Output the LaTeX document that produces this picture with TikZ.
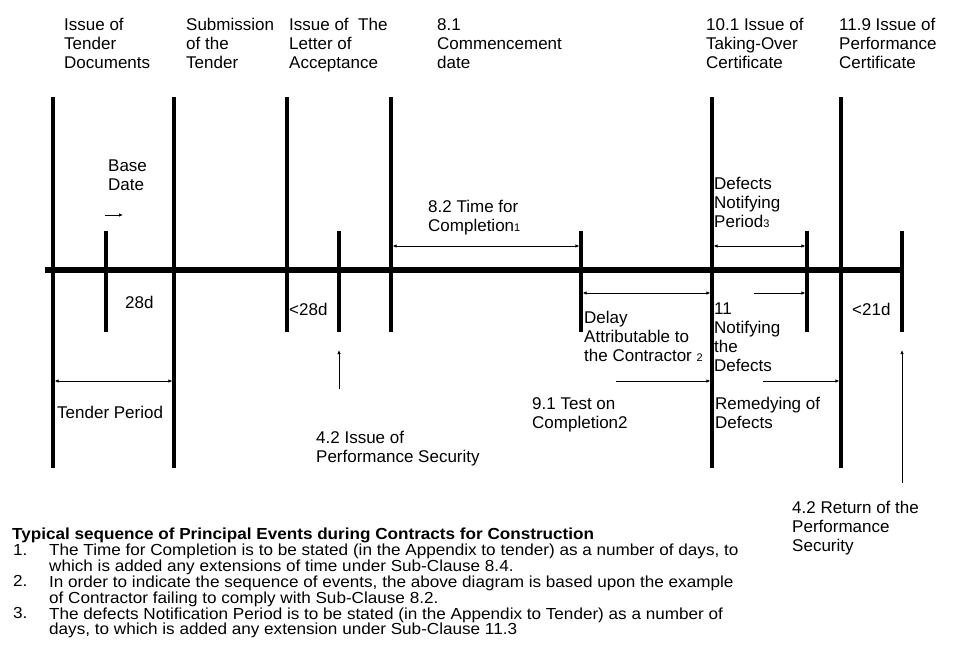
\documentclass[tikz,border=0pt]{standalone}
\usepackage{fontspec}
\setmainfont{Liberation Sans}
\newfontfamily\notefont[FakeStretch=1.07]{Liberation Sans}
\usetikzlibrary{arrows.meta}

% small index digits after some labels
\newcommand{\idx}[1]{{\fontsize{11}{11}\selectfont #1}}

\begin{document}
\begin{tikzpicture}[x=1pt, y=-1pt,
    % line styles
    axis/.style={line width=5.3pt},
    event/.style={line width=3.4pt},
    dim/.style={line width=0.8pt, {Latex[length=4pt,width=3.5pt]}-{Latex[length=4pt,width=3.5pt]}, shorten <=1.6pt, shorten >=1.6pt},
    pointer/.style={line width=0.8pt, -{Latex[length=4pt,width=3.5pt]}, shorten >=1.6pt},
    % text styles
    lbl/.style={anchor=north west, inner sep=0pt, align=left, font=\fontsize{17}{19}\selectfont},
    note/.style={anchor=north west, inner sep=0pt, align=left, font=\notefont\fontsize{16}{15.8}\selectfont}
]

\useasboundingbox (0,0) rectangle (960,656);

% Event lines - name/x/top/bottom
\foreach \name/\xx/\ytop/\ybot in {itd/53/97/468, base/106/231/332, sub/174/97/468,
    loa/287/97/332, sec/339/231/332, com/391/97/332, tfc/581/231/332,
    toc/712/97/468, dnp/807/231/332, pc/841/97/468, ret/902/231/332} {
  \coordinate (\name-t) at (\xx,\ytop);
  \coordinate (\name-b) at (\xx,\ybot);
  \draw[event] (\name-t) -- (\name-b);
}

% Time axis
\coordinate (start) at (45,270);
\draw[axis] (start) -- (start -| ret-t);

% Event labels on top
\node[lbl] (l-itd) at (64,18) {Issue of\\Tender\\Documents};
\node[lbl] (l-sub) at (186,18) {Submission\\of the\\Tender};
\node[lbl] (l-loa) at (289,18) {Issue of~ The\\Letter of\\Acceptance};
\node[lbl] (l-com) at (437,18) {8.1\\Commencement\\date};
\node[lbl] (l-toc) at (706,18) {10.1 Issue of\\Taking-Over\\Certificate};
\node[lbl] (l-pc) at (839,18) {11.9 Issue of\\Performance\\Certificate};

% Above the axis
\node[lbl] (l-base) at (108,160) {Base\\Date};
\coordinate (basefrom) at (105,215);
\draw[pointer, shorten >=0pt] (basefrom) -- ++(18,0);
\node[lbl] (l-tfc) at (428,200) {8.2 Time for\\Completion\idx{1}};
\draw[dim] (com-t |- 0,246) -- (tfc-t |- 0,246);
\node[lbl] (l-dnp) at (714,177) {Defects\\Notifying\\Period\idx{3}};
\draw[dim] (toc-t |- 0,246) -- (dnp-t |- 0,246);

% Below the axis
\node[lbl] (l-28) at (125,296) {28d};
\node[lbl] (l-lt28) at (289,303) {<28d};
\node[lbl] (l-lt21) at (852,303) {<21d};
\draw[dim] (tfc-t |- 0,293) -- (toc-t |- 0,293);
\node[lbl] (l-delay) at (584,311) {Delay\\Attributable to\\the Contractor \idx{2}};
\node[lbl] (l-ntf) at (714,303) {11\\Notifying\\the\\Defects};
\coordinate (ntffrom) at (754,293);
\draw[pointer] (ntffrom) -- (dnp-t |- ntffrom);

\draw[dim] (itd-t |- 0,381) -- (sub-t |- 0,381);
\node[lbl] (l-tp) at (57,406) {Tender Period};
\coordinate (testfrom) at (616,381);
\draw[pointer] (testfrom) -- (toc-t |- testfrom);
\node[lbl] (l-test) at (532,397) {9.1 Test on\\Completion2};
\coordinate (remfrom) at (763,381);
\draw[pointer] (remfrom) -- (pc-t |- remfrom);
\node[lbl] (l-rem) at (715,397) {Remedying of\\Defects};

% Performance security
\coordinate (secfrom) at (339,389);
\draw[pointer, shorten >=0pt] (secfrom) -- (sec-b |- 0,350);
\node[lbl] (l-sec) at (316,431) {4.2 Issue of\\Performance Security};
\coordinate (retfrom) at (902,483);
\draw[pointer, shorten >=0pt] (retfrom) -- (ret-b |- 0,350);
\node[lbl] (l-ret) at (792,501) {4.2 Return of the\\Performance\\Security};

% Notes
\node[note, font=\notefont\bfseries\fontsize{16}{15.8}\selectfont] (n-title) at (12,528)
  {Typical sequence of Principal Events during Contracts for Construction};
\node[note] (n-1) at (13,544) {1.};
\node[note] (t-1) at (49,544) {The Time for Completion is to be stated (in the Appendix to tender) as a number of days, to\\which is added any extensions of time under Sub-Clause 8.4.};
\node[note] (n-2) at (13,575.6) {2.};
\node[note] (t-2) at (49,575.6) {In order to indicate the sequence of events, the above diagram is based upon the example\\of Contractor failing to comply with Sub-Clause 8.2.};
\node[note] (n-3) at (13,607.2) {3.};
\node[note] (t-3) at (49,607.2) {The defects Notification Period is to be stated (in the Appendix to Tender) as a number of\\days, to which is added any extension under Sub-Clause 11.3};

\end{tikzpicture}
\end{document}
